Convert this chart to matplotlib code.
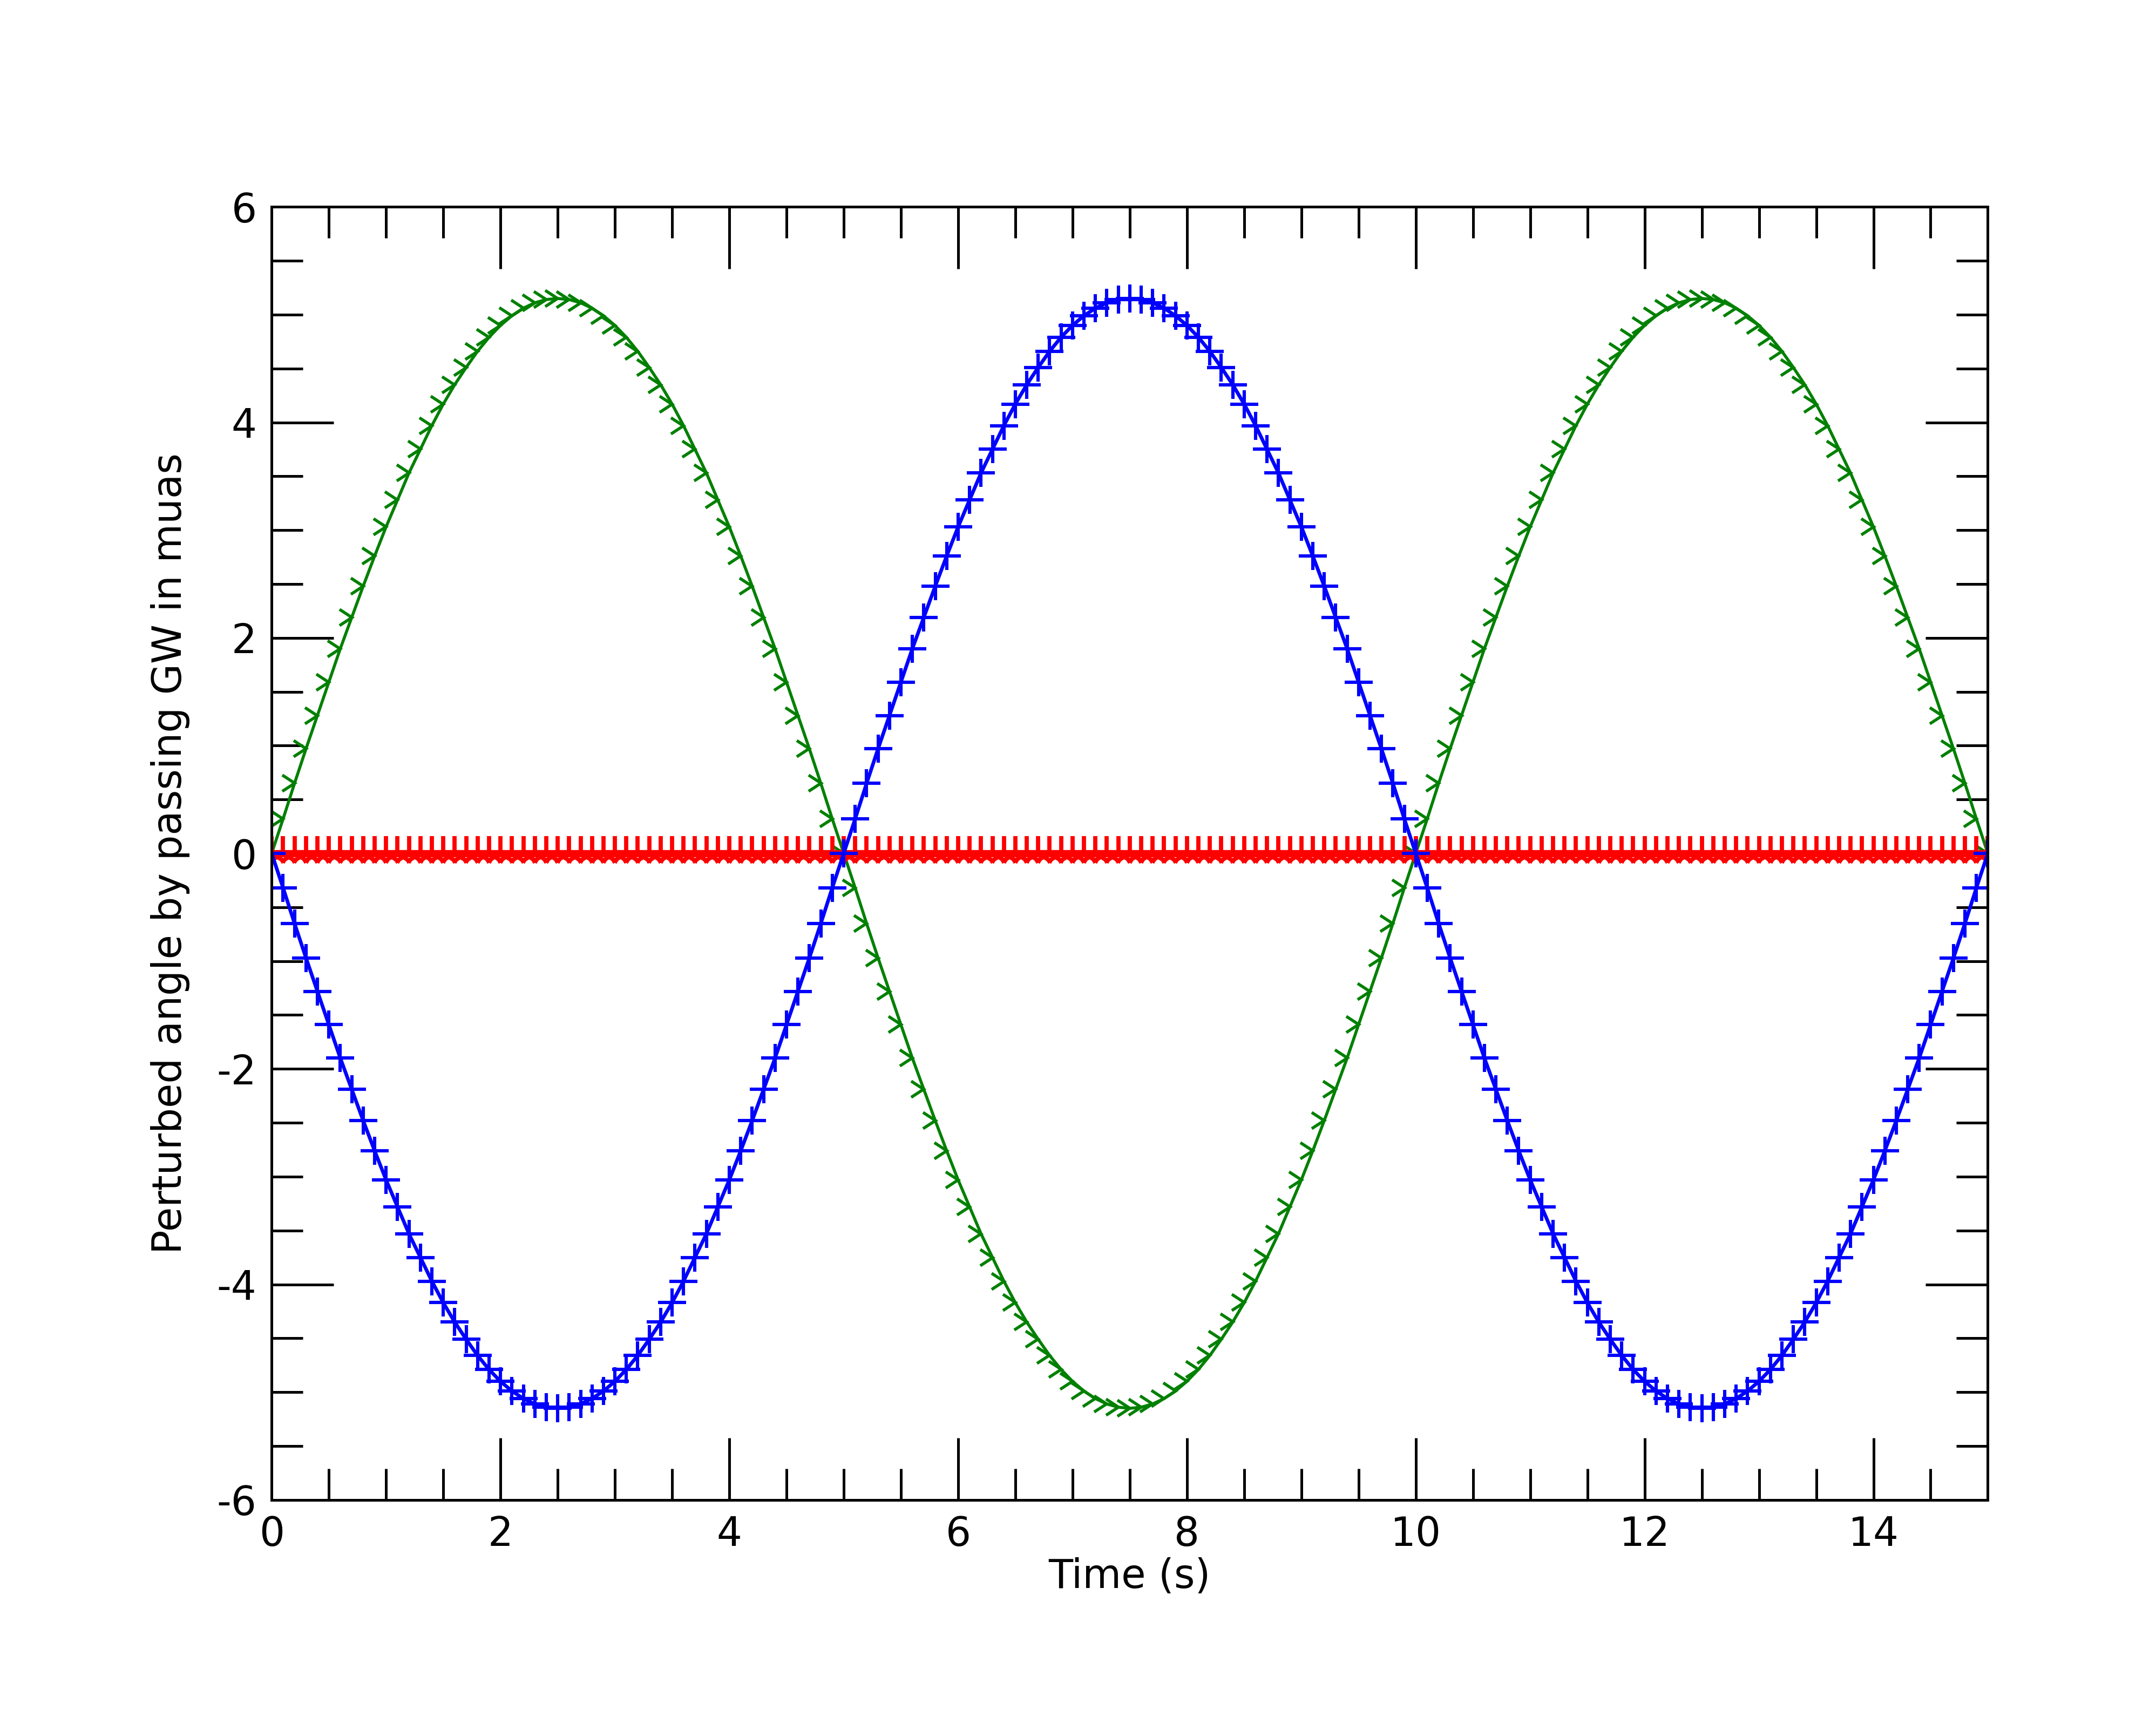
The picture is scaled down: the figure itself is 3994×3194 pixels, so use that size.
import numpy as np
import matplotlib
matplotlib.use('Agg')
import matplotlib.pyplot as plt
from matplotlib.ticker import MultipleLocator

## time samples (s), one marker every 0.1 s
time = np.arange(151) * 0.1

## perturbed angle (muas)
green_angle = [
    0.00, 0.32, 0.65, 0.97, 1.28, 1.59, 1.90, 2.19, 2.48, 2.76, 3.03, 3.28, 3.53,
    3.75, 3.97, 4.17, 4.35, 4.51, 4.66, 4.79, 4.90, 4.99, 5.06, 5.11, 5.14, 5.15,
    5.14, 5.11, 5.06, 4.99, 4.90, 4.79, 4.66, 4.51, 4.35, 4.17, 3.97, 3.75, 3.53,
    3.28, 3.03, 2.76, 2.48, 2.19, 1.90, 1.59, 1.28, 0.97, 0.65, 0.32, 0.00,
    -0.32, -0.65, -0.97, -1.28, -1.59, -1.90, -2.19, -2.48, -2.76, -3.03, -3.28, -3.53,
    -3.75, -3.97, -4.17, -4.35, -4.51, -4.66, -4.79, -4.90, -4.99, -5.06, -5.11, -5.14, -5.15,
    -5.14, -5.11, -5.06, -4.99, -4.90, -4.79, -4.66, -4.51, -4.35, -4.17, -3.97, -3.75, -3.53,
    -3.28, -3.03, -2.76, -2.48, -2.19, -1.90, -1.59, -1.28, -0.97, -0.65, -0.32, 0.00,
    0.32, 0.65, 0.97, 1.28, 1.59, 1.90, 2.19, 2.48, 2.76, 3.03, 3.28, 3.53,
    3.75, 3.97, 4.17, 4.35, 4.51, 4.66, 4.79, 4.90, 4.99, 5.06, 5.11, 5.14, 5.15,
    5.14, 5.11, 5.06, 4.99, 4.90, 4.79, 4.66, 4.51, 4.35, 4.17, 3.97, 3.75, 3.53,
    3.28, 3.03, 2.76, 2.48, 2.19, 1.90, 1.59, 1.28, 0.97, 0.65, 0.32, 0.00,
]

blue_angle = [
    0.00, -0.32, -0.65, -0.97, -1.28, -1.59, -1.90, -2.19, -2.48, -2.76, -3.03, -3.28, -3.53,
    -3.75, -3.97, -4.17, -4.35, -4.51, -4.66, -4.79, -4.90, -4.99, -5.06, -5.11, -5.14, -5.15,
    -5.14, -5.11, -5.06, -4.99, -4.90, -4.79, -4.66, -4.51, -4.35, -4.17, -3.97, -3.75, -3.53,
    -3.28, -3.03, -2.76, -2.48, -2.19, -1.90, -1.59, -1.28, -0.97, -0.65, -0.32, 0.00,
    0.32, 0.65, 0.97, 1.28, 1.59, 1.90, 2.19, 2.48, 2.76, 3.03, 3.28, 3.53,
    3.75, 3.97, 4.17, 4.35, 4.51, 4.66, 4.79, 4.90, 4.99, 5.06, 5.11, 5.14, 5.15,
    5.14, 5.11, 5.06, 4.99, 4.90, 4.79, 4.66, 4.51, 4.35, 4.17, 3.97, 3.75, 3.53,
    3.28, 3.03, 2.76, 2.48, 2.19, 1.90, 1.59, 1.28, 0.97, 0.65, 0.32, 0.00,
    -0.32, -0.65, -0.97, -1.28, -1.59, -1.90, -2.19, -2.48, -2.76, -3.03, -3.28, -3.53,
    -3.75, -3.97, -4.17, -4.35, -4.51, -4.66, -4.79, -4.90, -4.99, -5.06, -5.11, -5.14, -5.15,
    -5.14, -5.11, -5.06, -4.99, -4.90, -4.79, -4.66, -4.51, -4.35, -4.17, -3.97, -3.75, -3.53,
    -3.28, -3.03, -2.76, -2.48, -2.19, -1.90, -1.59, -1.28, -0.97, -0.65, -0.32, 0.00,
]

red_angle = [0.0] * 151

plt.rcParams['axes.unicode_minus'] = False
plt.rcParams['font.size'] = 13.3

fig = plt.figure(figsize=(9.985, 7.985), dpi=400)
ax = fig.add_axes([0.126, 0.130, 0.796, 0.750])

## green: open caret markers with the tip on the curve
ax.plot(time, green_angle, color='g', lw=1.0, marker=5, ms=5.5, mew=1.0,
        mfc='none', mec='g')
ax.plot(time, red_angle, color='r', lw=2.4, marker='2', ms=11.5, mew=1.4)
ax.plot(time, blue_angle, color='b', lw=1.2, marker='+', ms=9.4, mew=1.1)

ax.set_xlim(0, 15)
ax.set_ylim(-6, 6)
ax.xaxis.set_major_locator(MultipleLocator(2))
ax.xaxis.set_minor_locator(MultipleLocator(0.5))
ax.yaxis.set_major_locator(MultipleLocator(2))
ax.yaxis.set_minor_locator(MultipleLocator(0.5))
ax.tick_params(which='both', direction='in', top=True, right=True, width=0.9)
ax.tick_params(which='major', length=20.7, pad=5)
ax.tick_params(which='minor', length=10.5)
for sp in ax.spines.values():
    sp.set_linewidth(0.9)

ax.set_xlabel('Time (s)', labelpad=1)
ax.set_ylabel('Perturbed angle by passing GW in muas', labelpad=9)

fig.savefig('out.png', dpi=400)
